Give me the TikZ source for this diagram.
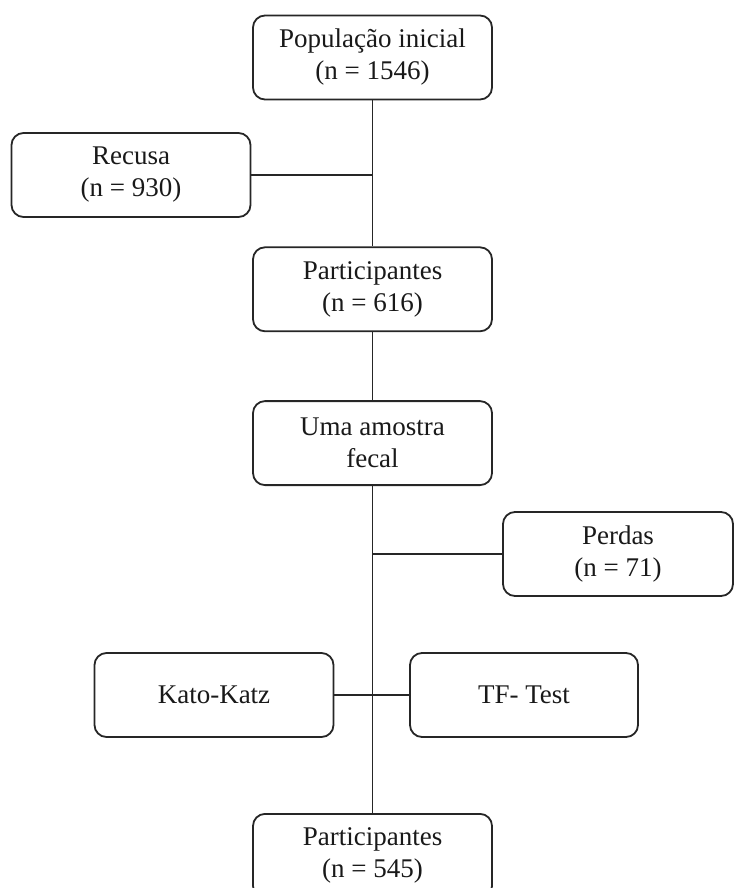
\documentclass[tikz,border=0pt]{standalone}
\usepackage{fontspec}
\setmainfont{Liberation Serif}
\usetikzlibrary{positioning,calc}

\begin{document}
\begin{tikzpicture}[
    x=0.5pt, y=-0.5pt,
    box/.style={draw=black!85, line width=0.9pt, rounded corners=6pt, minimum width=119.5pt,
                minimum height=42pt, align=center, text=black!90,
                font=\fontsize{13.5}{16}\selectfont},
    link/.style={draw=black!85, line width=0.9pt}
]
\useasboundingbox (0,0) rectangle (733,888);

% ---- main column ----
\node[box] (pop) at (372.5,57.5) {População inicial\\(n = 1546)};
\node[box, below=73pt of pop] (part1) {Participantes\\(n = 616)};
\node[box, below=34pt of part1] (amostra) {Uma amostra\\fecal};
\node[box, below=163.5pt of amostra] (part2) {Participantes\\(n = 545)};

% ---- side boxes ----
\node[box] (recusa) at (131,175) {Recusa\\(n = 930)};
\node[box, minimum width=115pt] (perdas) at (618,554) {Perdas\\(n = 71)};
\node[box] (kato) at (214,695) {Kato-Katz};
\node[box, minimum width=114pt] (tf) at (524,695) {TF- Test};

% connectors
\draw[link] (pop) -- (part1);
\draw[link] (part1) -- (amostra);
\draw[link] (amostra) -- (part2);

\draw[link] (recusa.east) -- (recusa.east -| pop.south);
\draw[link] (perdas.west) -- (perdas.west -| amostra.south);
\draw[link] (kato.east) -- (tf.west);

\end{tikzpicture}
\end{document}
